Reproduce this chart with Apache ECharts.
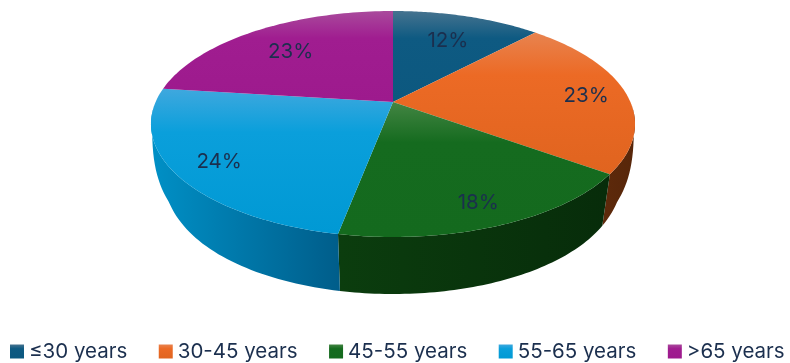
<!DOCTYPE html>
<html><head><meta charset="utf-8">
<style>html,body{margin:0;padding:0;background:#fff}#c{width:790px;height:363px}</style>
<script src="https://cdn.jsdelivr.net/npm/echarts@6/dist/echarts.min.js"></script>
</head><body><div id="c"></div>
<script>
const categories = ['≤30 years','30-45 years','45-55 years','55-65 years','>65 years'];
const shares = [12,23,18,24,23];
const labelRadius = [0.71,0.83,0.83,0.82,0.72];
const topColors = [['#46738f','#0e5a82','#0c587f'],['#e8834f','#ec6a25','#e0641f'],['#438543','#156b1f','#146a1e'],['#3fa8de','#0a9fdb','#0099d4'],['#a94a9c','#a01d90','#9d1a8d']];
const wallColors = [['#0a3f5c','#083247'],['#6b310c','#57260a'],['#0b3d0e','#072c0a'],['#0090c6','#005d8a'],['#6e1463','#5a1052']];
const textColor = '#1b2f4e';

const CX=393, CY=102, A=237.4, B=108.7, K=0.1947, DEPTH=58;
function topPt(th,r){ const X=r*Math.sin(th), Y=-r*Math.cos(th), w=1-K*Y; return [CX+A*X/w, CY+B*Y/w]; }
function botPt(th){
  const p=topPt(th,1), Y=-Math.cos(th);
  const u=Math.min(1,Math.max(Y,0)/0.45), s=1-0.035*u*u;
  const drop=Y<=0.1?0:DEPTH*(1-Math.exp(-(Y-0.1)/0.22));
  return [CX+(p[0]-CX)*s, p[1]+drop];
}
const total=shares.reduce((a,b)=>a+b,0);
function startOf(i){ let s=0; for(let j=0;j<i;j++) s+=shares[j]; return s; }
function gradV(c){ return new echarts.graphic.LinearGradient(0,0,0,1,[{offset:0,color:c[0]},{offset:0.3,color:c[1]},{offset:1,color:c[2]}]); }
function gradH(c){ return new echarts.graphic.LinearGradient(0,0,1,0,[{offset:0,color:c[0]},{offset:1,color:c[1]}]); }

const series=categories.map((name,i)=>({
  type:'custom', name, coordinateSystem:'none', animation:false, silent:true,
  itemStyle:{color:gradV(topColors[i])},
  data:[shares[i]],
  renderItem:function(params,api){
    const v=api.value(0), a0=startOf(i)/total*2*Math.PI, a1=a0+v/total*2*Math.PI;
    const n=64, arc=[], bot=[];
    for(let k=0;k<=n;k++){ const t=a0+(a1-a0)*k/n; arc.push(topPt(t,1)); bot.push(botPt(t)); }
    const mid=(a0+a1)/2, lp=topPt(mid,labelRadius[i]);
    return {type:'group',children:[
      {type:'polygon',z2:1,shape:{points:arc.concat(bot.slice().reverse())},style:{fill:gradH(wallColors[i])}},
      {type:'polygon',z2:10,shape:{points:[[CX,CY]].concat(arc)},style:{fill:gradV(topColors[i])}},
      {type:'text',z2:20,x:lp[0],y:lp[1]+2.5,style:{text:Math.round(v)+'%',fill:textColor,font:'20.5px Inter',align:'center',verticalAlign:'middle'}}
    ]};
  }
}));
const chart=echarts.init(document.getElementById('c'),null,{renderer:'canvas'});
chart.setOption({
  animation:false, backgroundColor:'#fff',
  legend:{show:true,data:categories,left:5,top:336,itemWidth:14,itemHeight:14,itemGap:31.5,icon:'rect',selectedMode:false,
    textStyle:{color:textColor,fontFamily:'Inter',fontSize:20.5}},
  series
});
</script></body></html>
